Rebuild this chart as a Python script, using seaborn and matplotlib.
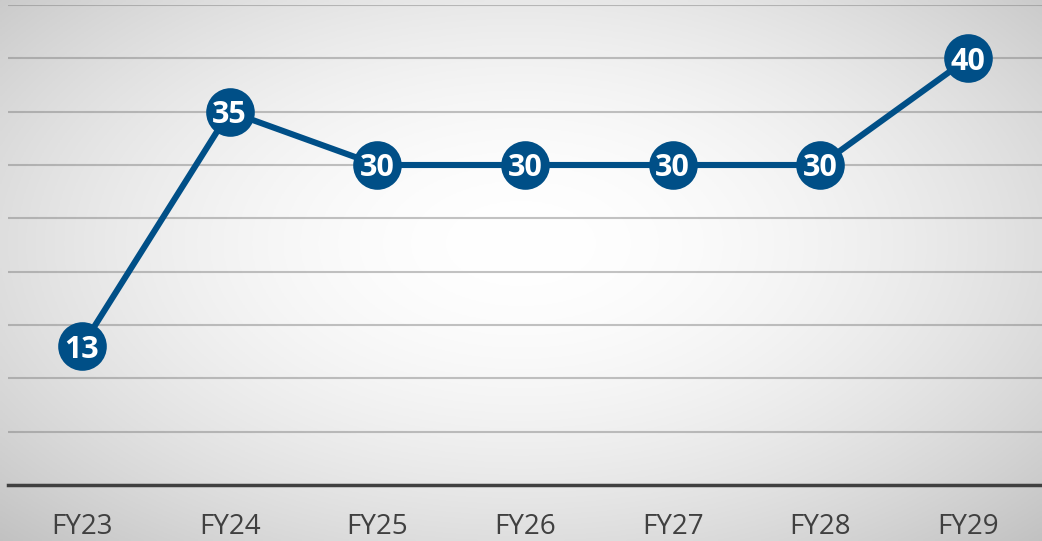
import numpy as np
import matplotlib
matplotlib.use("Agg")
import matplotlib.pyplot as plt
import seaborn as sns
import pandas as pd

categories = ["FY23", "FY24", "FY25", "FY26", "FY27", "FY28", "FY29"]
values = [13, 35, 30, 30, 30, 30, 40]
y_ticks = [0, 5, 10, 15, 20, 25, 30, 35, 40, 45]

sns.set_theme(style="white")
plt.rcParams['font.family'] = ['Open Sans', 'DejaVu Sans']

W, H = 1042, 541
fig = plt.figure(figsize=(W / 100, H / 100), dpi=100)

# radial gradient background
bg = fig.add_axes([0, 0, 1, 1], zorder=0)
xx, yy = np.meshgrid(np.linspace(0, 1, 400), np.linspace(0, 1, 220))
r = np.sqrt(((xx - 0.5) / 0.5) ** 2 + ((yy - 0.45) / 0.55) ** 2) / np.sqrt(2)
t = np.clip(r, 0, 1) ** 1.8
light, dark = 1.0, 0.76
g = light * (1 - t) + dark * t
img = np.dstack([g, g, g])
bg.imshow(img, extent=[0, 1, 0, 1], aspect="auto", origin="upper")
bg.axis("off")

ax = fig.add_axes([8 / W, (H - 485) / H, (W - 8) / W, 480 / H], zorder=1)
ax.patch.set_alpha(0)

df = pd.DataFrame({"cat": categories, "val": values})
color = "#004f87"
sns.lineplot(data=df, x="cat", y="val", ax=ax, color=color, linewidth=4.4,
             marker="o", markersize=35, markeredgewidth=0, sort=False, zorder=3)

for i, v in enumerate(values):
    ax.text(i, v, str(v), ha="center", va="center_baseline", color="white",
            fontsize=22, fontweight="bold", zorder=4)

ax.set_xlim(-0.5, len(categories) - 0.5)
ax.set_ylim(0, 45)
ax.set_yticks(y_ticks)
ax.yaxis.grid(True, color="#7a7a7a", alpha=0.45, linewidth=1.5)
ax.set_axisbelow(True)
ax.tick_params(axis="y", left=False, labelleft=False)
ax.tick_params(axis="x", bottom=False, pad=14, labelsize=20, labelcolor="#404040")
ax.set_xlabel("")
ax.set_ylabel("")
for s in ["top", "left", "right"]:
    ax.spines[s].set_visible(False)
ax.spines["bottom"].set_color("#404040")
ax.spines["bottom"].set_linewidth(2.5)
ax.spines["bottom"].set_zorder(2)

fig.savefig("out.png", dpi=100)
